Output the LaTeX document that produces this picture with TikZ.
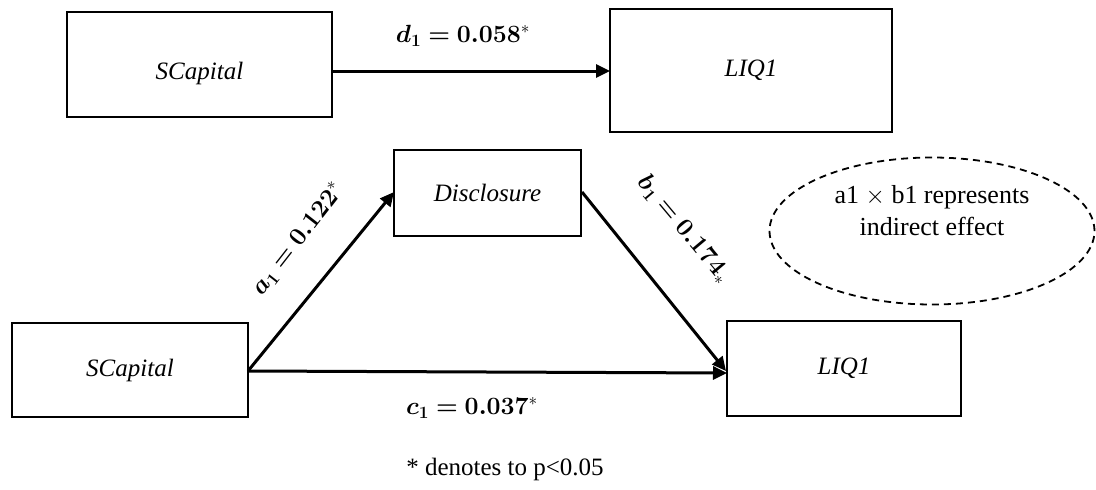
\documentclass[tikz,border=0pt]{standalone}
\usepackage{fontspec}
\setmainfont{Liberation Serif}
\usepackage{bm}
\usetikzlibrary{arrows.meta,shapes.geometric}
\begin{document}
\begin{tikzpicture}[x=1pt,y=-1pt,
  box/.style={draw,line width=2pt,inner sep=0pt,font=\fontsize{25}{30}\selectfont\itshape},
  arr/.style={line width=3pt,-{Triangle[length=14pt,width=13pt]}},
  lab/.style={font=\fontsize{23}{28}\selectfont}]
\useasboundingbox (0,0) rectangle (1096,490);
\node[box,minimum width=265pt,minimum height=105pt] (s1) at (199.5,64.5) {\raisebox{-14.5pt}[0pt][0pt]{SCapital}};
\node[box,minimum width=282pt,minimum height=123pt] (l1) at (751,70.5) {LIQ1};
\node[box,minimum width=187pt,minimum height=86pt] (d) at (487.5,193) {Disclosure};
\node[box,minimum width=236pt,minimum height=94pt] (s2) at (130,370) {SCapital};
\node[box,minimum width=234pt,minimum height=95pt] (l2) at (844,368.5) {LIQ1};
\node[draw,dashed,dash pattern=on 7pt off 5pt,line width=1.8pt,ellipse,minimum width=325pt,minimum height=147pt] (e) at (932,231) {};
\node[align=center,font=\fontsize{26}{32}\selectfont] (et) at (932,211) {a1 $\times$ b1 represents\\indirect effect};
\coordinate (s1e) at (332,71);
\coordinate (l1w) at (610,71);
\draw[arr] (s1e) -- (l1w);
\coordinate (s2e) at (248,371);
\coordinate (dw) at (394,192);
\coordinate (de) at (582,192);
\coordinate (l2w) at (727,373);
\coordinate (l2nw) at (726,371);
\draw[arr] (s2e) -- (dw);
\draw[arr] (s2e) -- (l2w);
\draw[arr] (de) -- (l2nw);
\node[lab] (dl) at (463,36) {$\bm{d_1 = 0.058}^{*}$};
\node[lab,rotate=52] (al) at (298,239) {$\bm{a_1 = 0.122}^{*}$};
\node[lab,rotate=-50] (bl) at (684,229) {$\bm{b_1 = 0.174}_{*}$};
\node[lab] (cl) at (472,408) {$\bm{c_1 = 0.037}^{*}$};
\node[font=\fontsize{25}{30}\selectfont] (fn) at (505,469) {* denotes to p<0.05};
\end{tikzpicture}
\end{document}
